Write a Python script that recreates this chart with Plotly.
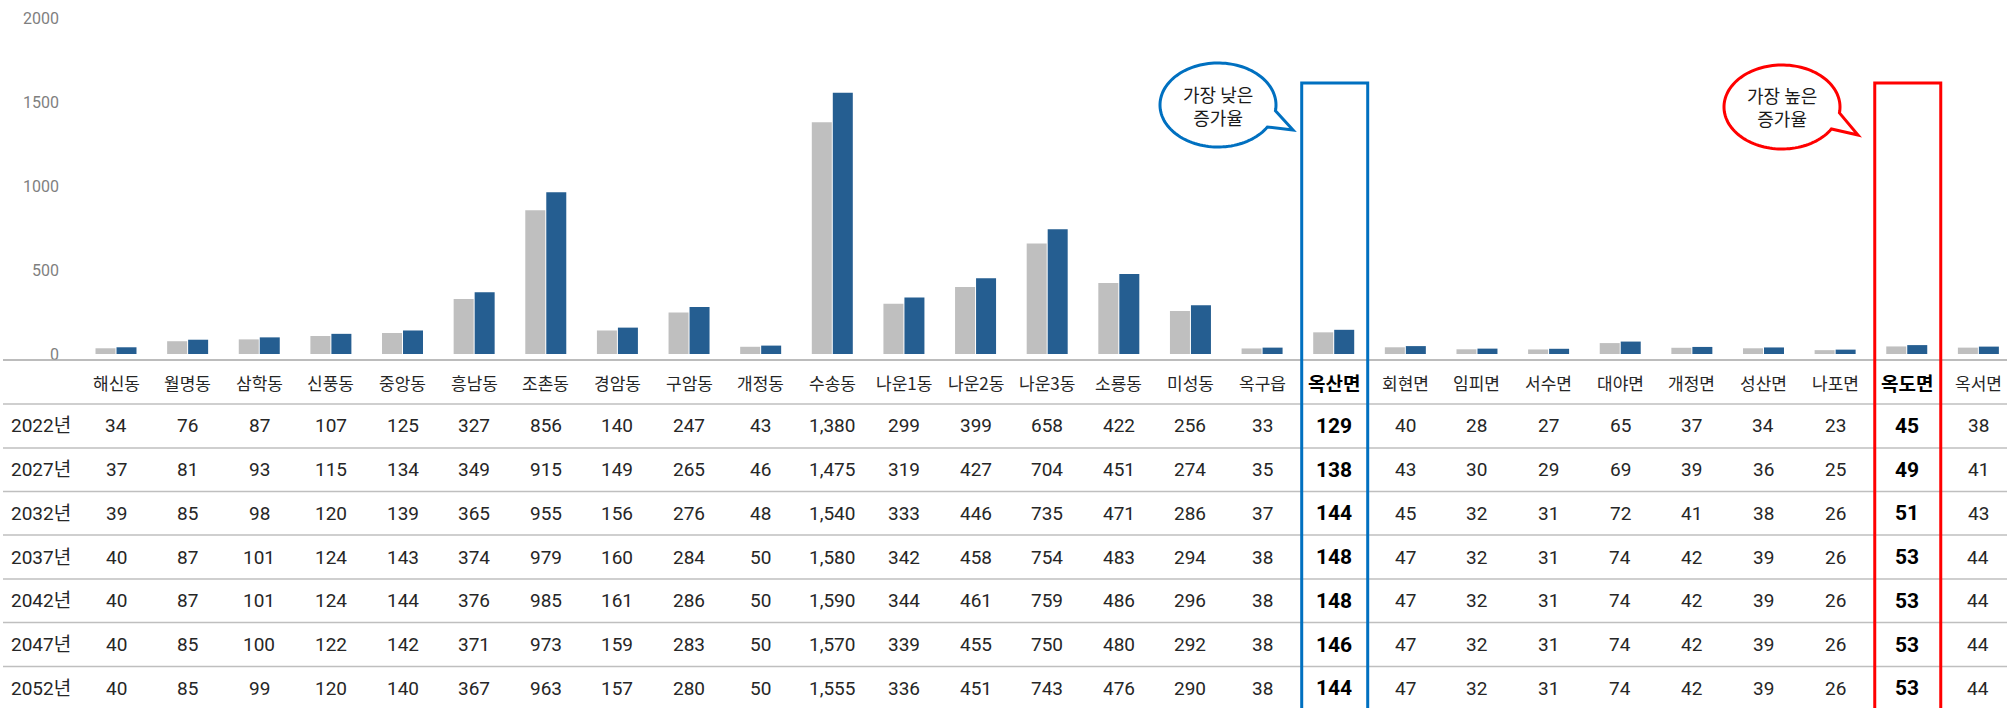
import numpy as np
import plotly.graph_objects as go

# ---------------- data ----------------
names = ["해신동", "월명동", "삼학동", "신풍동", "중앙동", "흥남동", "조촌동", "경암동", "구암동",
         "개정동", "수송동", "나운1동", "나운2동", "나운3동", "소룡동", "미성동", "옥구읍", "옥산면",
         "회현면", "임피면", "서수면", "대야면", "개정면", "성산면", "나포면", "옥도면", "옥서면"]
years = ["2022년", "2027년", "2032년", "2037년", "2042년", "2047년", "2052년"]
v2022 = [34, 76, 87, 107, 125, 327, 856, 140, 247, 43, 1380, 299, 399, 658, 422, 256, 33, 129, 40, 28, 27, 65, 37, 34, 23, 45, 38]
v2027 = [37, 81, 93, 115, 134, 349, 915, 149, 265, 46, 1475, 319, 427, 704, 451, 274, 35, 138, 43, 30, 29, 69, 39, 36, 25, 49, 41]
v2032 = [39, 85, 98, 120, 139, 365, 955, 156, 276, 48, 1540, 333, 446, 735, 471, 286, 37, 144, 45, 32, 31, 72, 41, 38, 26, 51, 43]
v2037 = [40, 87, 101, 124, 143, 374, 979, 160, 284, 50, 1580, 342, 458, 754, 483, 294, 38, 148, 47, 32, 31, 74, 42, 39, 26, 53, 44]
v2042 = [40, 87, 101, 124, 144, 376, 985, 161, 286, 50, 1590, 344, 461, 759, 486, 296, 38, 148, 47, 32, 31, 74, 42, 39, 26, 53, 44]
v2047 = [40, 85, 100, 122, 142, 371, 973, 159, 283, 50, 1570, 339, 455, 750, 480, 292, 38, 146, 47, 32, 31, 74, 42, 39, 26, 53, 44]
v2052 = [40, 85, 99, 120, 140, 367, 963, 157, 280, 50, 1555, 336, 451, 743, 476, 290, 38, 144, 47, 32, 31, 74, 42, 39, 26, 53, 44]
rows = [v2022, v2027, v2032, v2037, v2042, v2047, v2052]
y_ticks = [0, 500, 1000, 1500, 2000]
low_name, high_name = "옥산면", "옥도면"
low_text, high_text = "가장 낮은<br>증가율", "가장 높은<br>증가율"

# ---------------- geometry helpers ----------------
W, H = 2007, 708
ML = 60
STEP = 71.63          # px per category
C0 = 116              # px centre of first category
xa = -(C0 - ML) / STEP
xb = xa + (W - ML) / STEP


def colpx(i):
    return C0 + STEP * i


def xp(p):
    return (p - ML) / (W - ML)


def yp(p):
    return 1 - p / H


FONT = "Roboto, 'Noto Sans CJK KR', sans-serif"
KFONT = "'Noto Sans CJK KR', Roboto, sans-serif"

fig = go.Figure()
fig.add_bar(x=names, y=v2022, marker_color="#BFBFBF", marker_line_width=0, name="2022년")
fig.add_bar(x=names, y=v2052, marker_color="#255E91", marker_line_width=0, name="2052년")

shapes = []
annotations = []

# table horizontal lines
line_ys = [360, 404, 448, 491.5, 535, 579, 622.5, 666.5]
for j, ly in enumerate(line_ys):
    shapes.append(dict(type="line", xref="paper", yref="paper", x0=xp(3), x1=1,
                       y0=yp(ly), y1=yp(ly),
                       line=dict(color="#A6A6A6" if j == 0 else "#BFBFBF", width=1.5)))

hl = {low_name, high_name}
# header row
for i, n in enumerate(names):
    bold = n in hl
    annotations.append(dict(x=n, xref="x", y=yp(382), yref="paper", text=f"<b>{n}</b>" if bold else n,
                            showarrow=False, xanchor="center", yanchor="middle",
                            font=dict(family=KFONT, size=19 if bold else 17,
                                      color="#000000" if bold else "#262626")))
# data rows
row_cy = [426, 469.5, 513, 557, 600.5, 644.5, 688]
for r, (yr, vals) in enumerate(zip(years, rows)):
    annotations.append(dict(x=xp(9), xref="paper", y=yp(row_cy[r]), yref="paper", text=yr,
                            showarrow=False, xanchor="left", yanchor="middle",
                            font=dict(family=FONT, size=19, color="#262626")))
    for i, (n, v) in enumerate(zip(names, vals)):
        bold = n in hl
        t = f"{v:,}"
        annotations.append(dict(x=n, xref="x", y=yp(row_cy[r]), yref="paper",
                                text=f"<b>{t}</b>" if bold else t,
                                showarrow=False, xanchor="center", yanchor="middle",
                                font=dict(family=FONT, size=21 if bold else 19,
                                          color="#000000" if bold else "#262626")))

# highlight rectangles
for n, col in [(low_name, "#0070C0"), (high_name, "#FF0000")]:
    c = colpx(names.index(n)) + 1
    shapes.append(dict(type="rect", xref="paper", yref="paper", x0=xp(c - 33), x1=xp(c + 33),
                       y0=yp(83), y1=yp(H + 10), line=dict(color=col, width=3),
                       fillcolor="rgba(0,0,0,0)", layer="above"))


def callout(cx, cy, rx, ry, tip, col):
    t_up = np.deg2rad(8)
    t_lo = np.deg2rad(31.6) - 2 * np.pi
    ts = np.linspace(t_up, t_lo, 120)
    pts = [(cx + rx * np.cos(t), cy + ry * np.sin(t)) for t in ts]
    pts.append(tip)
    path = "M " + " L ".join(f"{xp(x):.5f},{yp(y):.5f}" for x, y in pts) + " Z"
    return dict(type="path", xref="paper", yref="paper", path=path,
                line=dict(color=col, width=3), fillcolor="white", layer="above")


callouts = [(low_name, 1218, 105, (1293, 130), "#0070C0", low_text),
            (high_name, 1782, 107, (1858, 135), "#FF0000", high_text)]
for n, cx, cy, tip, col, txt in callouts:
    shapes.append(callout(cx, cy, 58, 42, tip, col))
    annotations.append(dict(x=xp(cx), xref="paper", y=yp(cy), yref="paper", text=txt,
                            showarrow=False, xanchor="center", yanchor="middle",
                            font=dict(family=KFONT, size=18, color="#1a1a1a")))

fig.update_layout(
    width=W, height=H,
    margin=dict(l=ML, r=0, t=0, b=0, pad=0, autoexpand=False),
    paper_bgcolor="white", plot_bgcolor="white",
    barmode="group", bargap=0.4136, bargroupgap=0.0476,
    showlegend=False,
    xaxis=dict(type="category", range=[xa, xb], showticklabels=False, showgrid=False,
               zeroline=False, showline=False, ticks="", automargin=False),
    yaxis=dict(range=[0, 2000], domain=[1 - 354 / H, 1 - 18 / H], tickvals=y_ticks,
               ticktext=[str(v) for v in y_ticks], showgrid=False, zeroline=False,
               showline=False, ticks="", automargin=False,
               tickfont=dict(family=FONT, size=16, color="#7F7F7F")),
    shapes=shapes,
    annotations=annotations,
)

fig.write_html("out.html", config={"displayModeBar": False},
               post_script="document.body.style.margin='0';")
